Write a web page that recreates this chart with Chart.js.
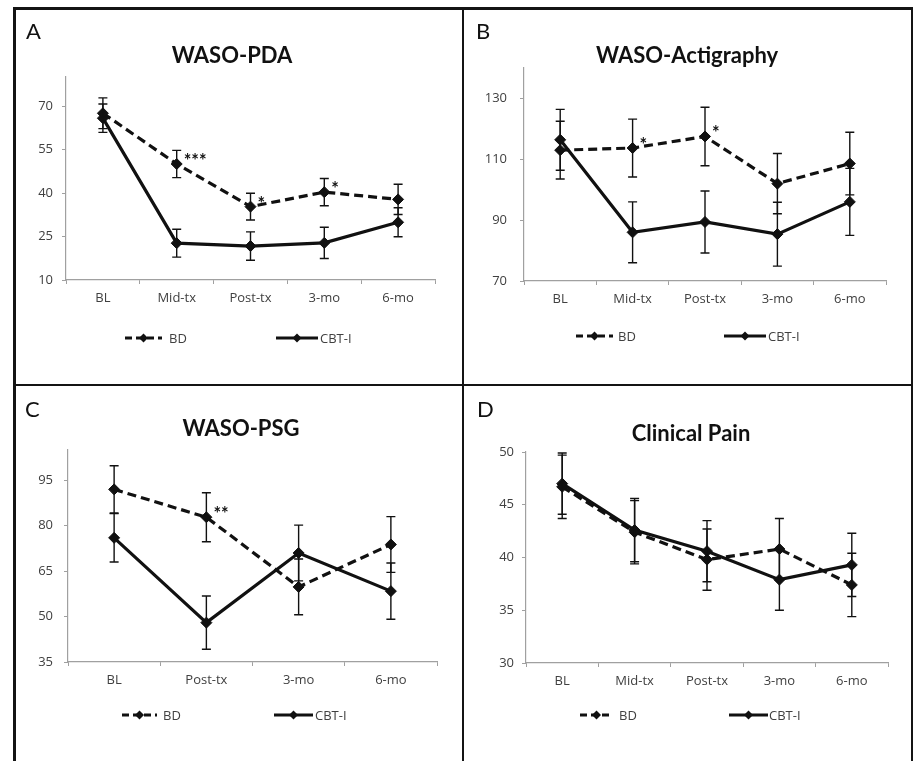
<!DOCTYPE html>
<html lang="en">
<head>
    <meta charset="UTF-8">
    <title>WASO and Clinical Pain</title>
    <script src="https://cdn.jsdelivr.net/npm/chart.js@4.4.1/dist/chart.umd.min.js"></script>
    <style>
        body { margin: 0; background: #fff; width: 916px; height: 761px; position: relative; overflow: hidden; }
        .line { position: absolute; background: #141414; }
        canvas { position: absolute; }
    </style>
</head>
<body>
<!-- panel frame -->
<div class="line" style="left:13px;top:7px;width:900px;height:3px;"></div>
<div class="line" style="left:13px;top:7px;width:3px;height:754px;"></div>
<div class="line" style="left:911px;top:7px;width:2px;height:754px;"></div>
<div class="line" style="left:462px;top:7px;width:2px;height:754px;"></div>
<div class="line" style="left:13px;top:384px;width:900px;height:2px;"></div>

<canvas id="chartA" width="446" height="375" style="left:16px;top:9px;"></canvas>
<canvas id="chartB" width="446" height="375" style="left:465px;top:9px;"></canvas>
<canvas id="chartC" width="446" height="374" style="left:16px;top:387px;"></canvas>
<canvas id="chartD" width="446" height="374" style="left:465px;top:387px;"></canvas>

<script>
    // categories
    const timepoints = ['BL', 'Mid-tx', 'Post-tx', '3-mo', '6-mo'];
    const timepointsPSG = ['BL', 'Post-tx', '3-mo', '6-mo'];

    // A - WASO-PDA
    const pdaBD = [67.5, 50, 35.3, 40.3, 37.8];
    const pdaBDErr = [5.3, 4.7, 4.6, 4.7, 5.2];
    const pdaCBT = [65.8, 22.7, 21.7, 22.8, 29.9];
    const pdaCBTErr = [4.9, 4.8, 4.9, 5.4, 5];
    const pdaStars = ['', '***', '*', '*', ''];
    const pdaTicks = [10, 25, 40, 55, 70];

    // B - WASO-Actigraphy
    const actBD = [113, 113.7, 117.5, 102, 108.6];
    const actBDErr = [9.5, 9.5, 9.6, 9.9, 10.3];
    const actCBT = [116.4, 86, 89.4, 85.4, 96];
    const actCBTErr = [10, 10, 10.2, 10.5, 11];
    const actStars = ['', '*', '*', '', ''];
    const actTicks = [70, 90, 110, 130];

    // C - WASO-PSG
    const psgBD = [92, 82.8, 59.8, 73.8];
    const psgBDErr = [7.8, 8.1, 9.2, 9.2];
    const psgCBT = [76, 48, 71, 58.4];
    const psgCBTErr = [8, 8.8, 9.2, 9.3];
    const psgStars = ['', '**', '', ''];
    const psgTicks = [35, 50, 65, 80, 95];

    // D - Clinical Pain
    const painBD = [46.7, 42.4, 39.8, 40.8, 37.4];
    const painBDErr = [3, 3, 2.9, 2.9, 3];
    const painCBT = [47, 42.6, 40.6, 37.9, 39.3];
    const painCBTErr = [2.9, 3, 2.9, 2.9, 3];
    const painStars = ['', '', '', '', ''];
    const painTicks = [30, 35, 40, 45, 50];

    const INK = '#111';
    const TICK_FONT = { family: '"Open Sans"', size: 13 };

    // error bars, asterisks, panel letter, title and legend
    const decorPlugin = {
        id: 'decor',
        afterDatasetsDraw(chart, args, opts) {
            const ctx = chart.ctx;
            const yScale = chart.scales.y;
            ctx.save();
            chart.data.datasets.forEach((ds, i) => {
                const meta = chart.getDatasetMeta(i);
                ctx.strokeStyle = INK;
                ctx.lineWidth = 1.4;
                ctx.setLineDash([]);
                ds.data.forEach((v, j) => {
                    const x = meta.data[j].x;
                    const top = yScale.getPixelForValue(v + ds.errorBars[j]);
                    const bot = yScale.getPixelForValue(v - ds.errorBars[j]);
                    ctx.beginPath();
                    ctx.moveTo(x, top); ctx.lineTo(x, bot);
                    ctx.moveTo(x - 4.5, top); ctx.lineTo(x + 4.5, top);
                    ctx.moveTo(x - 4.5, bot); ctx.lineTo(x + 4.5, bot);
                    ctx.stroke();
                });
                if (ds.stars) {
                    ctx.fillStyle = INK;
                    ctx.font = 'bold 18px Lato';
                    ctx.textAlign = 'left';
                    ctx.textBaseline = 'alphabetic';
                    ds.stars.forEach((s, j) => {
                        if (!s) return;
                        const p = meta.data[j];
                        ctx.fillText(s, p.x + 7, p.y + 3);
                    });
                }
            });
            ctx.restore();
        },
        afterDraw(chart, args, opts) {
            const ctx = chart.ctx;
            ctx.save();
            ctx.fillStyle = '#111';
            ctx.textBaseline = 'alphabetic';
            ctx.font = '22px Lato';
            ctx.textAlign = 'left';
            ctx.fillText(opts.letter, opts.letterX, 30);
            ctx.font = 'bold 22px Lato';
            ctx.textAlign = 'center';
            ctx.fillText(opts.title, opts.titleX, opts.titleY);

            // legend
            const y = opts.legendY;
            chart.data.datasets.forEach((ds, i) => {
                const [x1, x2, tx] = opts.legendX[i];
                ctx.strokeStyle = INK;
                ctx.lineWidth = 3;
                ctx.setLineDash(i === 0 ? [7, 4] : []);
                ctx.beginPath();
                ctx.moveTo(x1, y); ctx.lineTo(x2, y);
                ctx.stroke();
                ctx.setLineDash([]);
                const cx = (x1 + x2) / 2;
                ctx.fillStyle = INK;
                ctx.beginPath();
                ctx.moveTo(cx, y - 4.5); ctx.lineTo(cx + 4.5, y); ctx.lineTo(cx, y + 4.5); ctx.lineTo(cx - 4.5, y);
                ctx.closePath();
                ctx.fill();
                ctx.fillStyle = '#404040';
                ctx.font = '13px "Open Sans"';
                ctx.textAlign = 'left';
                ctx.textBaseline = 'middle';
                ctx.fillText(ds.label, tx, y + 1);
                ctx.textBaseline = 'alphabetic';
            });
            ctx.restore();
        }
    };

    const makeChart = (canvasId, cfg) => {
        const canvas = document.getElementById(canvasId);
        const area = cfg.area; // [left, top, right, bottom] inside the canvas
        return new Chart(canvas, {
            type: 'line',
            data: {
                labels: cfg.labels,
                datasets: [
                    {
                        label: 'BD',
                        data: cfg.bd,
                        errorBars: cfg.bdErr,
                        stars: cfg.stars,
                        borderColor: INK,
                        backgroundColor: INK,
                        borderWidth: 3.2,
                        borderDash: [9, 5],
                        pointStyle: 'rectRot',
                        pointRadius: 5.5,
                        pointBorderWidth: 1,
                        tension: 0
                    },
                    {
                        label: 'CBT-I',
                        data: cfg.cbt,
                        errorBars: cfg.cbtErr,
                        borderColor: INK,
                        backgroundColor: INK,
                        borderWidth: 3.2,
                        pointStyle: 'rectRot',
                        pointRadius: 5.5,
                        pointBorderWidth: 1,
                        tension: 0
                    }
                ]
            },
            options: {
                responsive: false,
                animation: false,
                layout: {
                    padding: { left: 0, top: area[1], right: canvas.width - area[2], bottom: 0 }
                },
                scales: {
                    x: {
                        type: 'category',
                        offset: true,
                        afterFit: (scale) => { scale.height = canvas.height - area[3]; },
                        grid: { offset: true, drawOnChartArea: false, drawTicks: true, tickLength: 4, color: '#a0a0a0' },
                        border: { display: true, color: '#a0a0a0', width: 1.2 },
                        ticks: { color: '#404040', font: TICK_FONT, padding: 6, maxRotation: 0 }
                    },
                    y: {
                        min: cfg.min,
                        max: cfg.max,
                        afterFit: (scale) => { scale.width = area[0]; },
                        afterBuildTicks: (scale) => { scale.ticks = cfg.ticks.map(v => ({ value: v })); },
                        grid: { drawOnChartArea: false, drawTicks: true, tickLength: 4, color: '#a0a0a0' },
                        border: { display: true, color: '#a0a0a0', width: 1.2 },
                        ticks: { color: '#404040', font: TICK_FONT, padding: cfg.yPad }
                    }
                },
                plugins: {
                    legend: { display: false },
                    tooltip: { enabled: false },
                    decor: {
                        letter: cfg.letter,
                        letterX: cfg.letterX,
                        title: cfg.title,
                        titleX: cfg.titleX,
                        titleY: cfg.titleY,
                        legendY: cfg.legendY,
                        legendX: cfg.legendX
                    }
                }
            },
            plugins: [decorPlugin]
        });
    };

    makeChart('chartA', {
        labels: timepoints, bd: pdaBD, bdErr: pdaBDErr, cbt: pdaCBT, cbtErr: pdaCBTErr, stars: pdaStars,
        ticks: pdaTicks, min: 10, max: 80, yPad: 9,
        area: [50, 68, 419, 271],
        letter: 'A', letterX: 10, title: 'WASO-PDA', titleX: 216, titleY: 54,
        legendY: 329, legendX: [[109, 146, 153], [260, 302, 304]]
    });

    makeChart('chartB', {
        labels: timepoints, bd: actBD, bdErr: actBDErr, cbt: actCBT, cbtErr: actCBTErr, stars: actStars,
        ticks: actTicks, min: 70, max: 140, yPad: 13,
        area: [59, 59, 421, 272],
        letter: 'B', letterX: 11, title: 'WASO-Actigraphy', titleX: 222, titleY: 54,
        legendY: 327, legendX: [[111, 148, 153], [259, 301, 303]]
    });

    makeChart('chartC', {
        labels: timepointsPSG, bd: psgBD, bdErr: psgBDErr, cbt: psgCBT, cbtErr: psgCBTErr, stars: psgStars,
        ticks: psgTicks, min: 35, max: 105, yPad: 11,
        area: [52, 63, 421, 275],
        letter: 'C', letterX: 9, title: 'WASO-PSG', titleX: 225, titleY: 49,
        legendY: 328, legendX: [[106, 141, 147], [258, 297, 299]]
    });

    makeChart('chartD', {
        labels: timepoints, bd: painBD, bdErr: painBDErr, cbt: painCBT, cbtErr: painCBTErr, stars: painStars,
        ticks: painTicks, min: 30, max: 50, yPad: 8,
        area: [61, 65, 423, 276],
        letter: 'D', letterX: 12, title: 'Clinical Pain', titleX: 226, titleY: 54,
        legendY: 328, legendX: [[115, 148, 154], [264, 303, 304]]
    });
</script>
</body>
</html>
